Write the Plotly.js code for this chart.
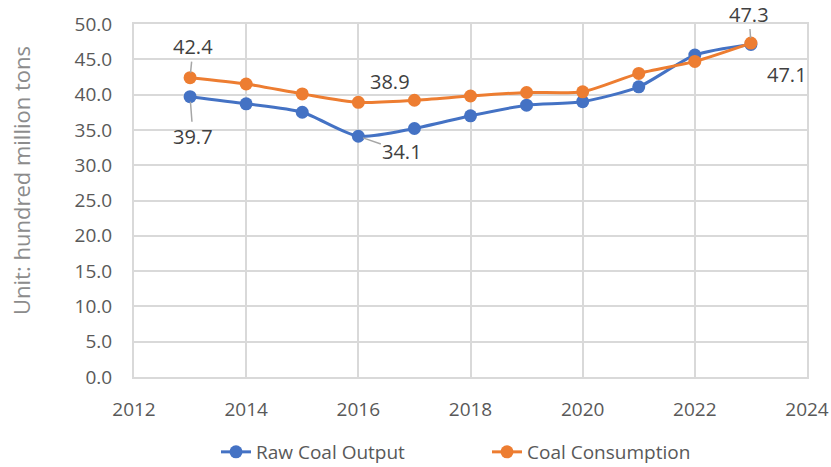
<!DOCTYPE html>
<html>
<head>
<meta charset="utf-8">
<script src="https://cdn.plot.ly/plotly-3.0.1.min.js"></script>
<style>html,body{margin:0;padding:0;background:#fff;}#chart{width:831px;height:467px;}</style>
</head>
<body>
<div id="chart"></div>
<script>
const years = [2013, 2014, 2015, 2016, 2017, 2018, 2019, 2020, 2021, 2022, 2023];
const rawCoalOutput = [39.7, 38.7, 37.5, 34.1, 35.2, 37.0, 38.5, 39.0, 41.1, 45.6, 47.1];
const coalConsumption = [42.4, 41.5, 40.1, 38.9, 39.2, 39.8, 40.3, 40.4, 43.0, 44.7, 47.3];
const seriesNames = ["Raw Coal Output", "Coal Consumption"];
const yTitle = "Unit: hundred million tons";

const FONT = "Open Sans, Noto Sans, sans-serif";
const BLUE = "#4472C4", ORANGE = "#ED7D31";
const GRID = "#d9d9d9";

const last = years.length - 1;
const traces = [
  {x: years, y: rawCoalOutput, name: seriesNames[0], type: "scatter", mode: "lines+markers",
   line: {color: BLUE, width: 3, shape: "spline", smoothing: 0.7},
   marker: {color: BLUE, size: 13}},
  {x: years, y: coalConsumption, name: seriesNames[1], type: "scatter", mode: "lines+markers",
   line: {color: ORANGE, width: 3, shape: "spline", smoothing: 0.7},
   marker: {color: ORANGE, size: 13}}
];

function lbl(x, y, ax, ay, arrow) {
  return {x: x, y: y, xref: "x", yref: "y", text: y.toFixed(1), showarrow: true,
    ax: ax, ay: ay, arrowhead: 0, arrowwidth: arrow ? 1.5 : 0.01,
    arrowcolor: arrow ? "#a6a6a6" : "rgba(0,0,0,0)", standoff: 5,
    font: {family: FONT, size: 20, color: "#404040"}};
}

const annotations = [
  lbl(years[0], coalConsumption[0], 3, -31, true),
  lbl(years[0], rawCoalOutput[0], 3, 40, true),
  lbl(years[3], coalConsumption[3], 32, -21, false),
  lbl(years[3], rawCoalOutput[3], 44, 15, true),
  lbl(years[last], coalConsumption[last], -2, -29, true),
  lbl(years[last], rawCoalOutput[last], 36, 30, false),
  {xref: "paper", yref: "paper", x: -0.168, y: 0.558, xanchor: "center", yanchor: "middle",
   text: yTitle, textangle: -90, showarrow: false,
   font: {family: FONT, size: 22, color: "#8c8c8c"}}
];

const layout = {
  width: 831, height: 467,
  margin: {l: 134, r: 24, t: 24, b: 90},
  paper_bgcolor: "#fff", plot_bgcolor: "#fff",
  showlegend: true,
  legend: {orientation: "h", xref: "container", yref: "container",
    x: 216 / 831, xanchor: "left", y: 15 / 467, yanchor: "middle",
    entrywidth: 226, entrywidthmode: "pixels",
    font: {family: FONT, size: 19, color: "#595959"}},
  xaxis: {range: [2012, 2024], dtick: 2, tick0: 2012, showgrid: true, gridcolor: GRID, gridwidth: 2,
    showline: true, linecolor: GRID, linewidth: 2, mirror: true, zeroline: false,
    ticks: "outside", ticklen: 14, tickcolor: "rgba(0,0,0,0)",
    tickfont: {family: FONT, size: 19, color: "#595959"}},
  yaxis: {range: [0, 50], dtick: 5, tick0: 0, tickformat: ".1f", showgrid: true, gridcolor: GRID, gridwidth: 2,
    showline: true, linecolor: GRID, linewidth: 2, mirror: true, zeroline: false,
    ticks: "outside", ticklen: 16, tickcolor: "rgba(0,0,0,0)",
    tickfont: {family: FONT, size: 19, color: "#595959"}},
  annotations: annotations
};

Plotly.newPlot("chart", traces, layout, {displayModeBar: false, staticPlot: true});
</script>
</body>
</html>
